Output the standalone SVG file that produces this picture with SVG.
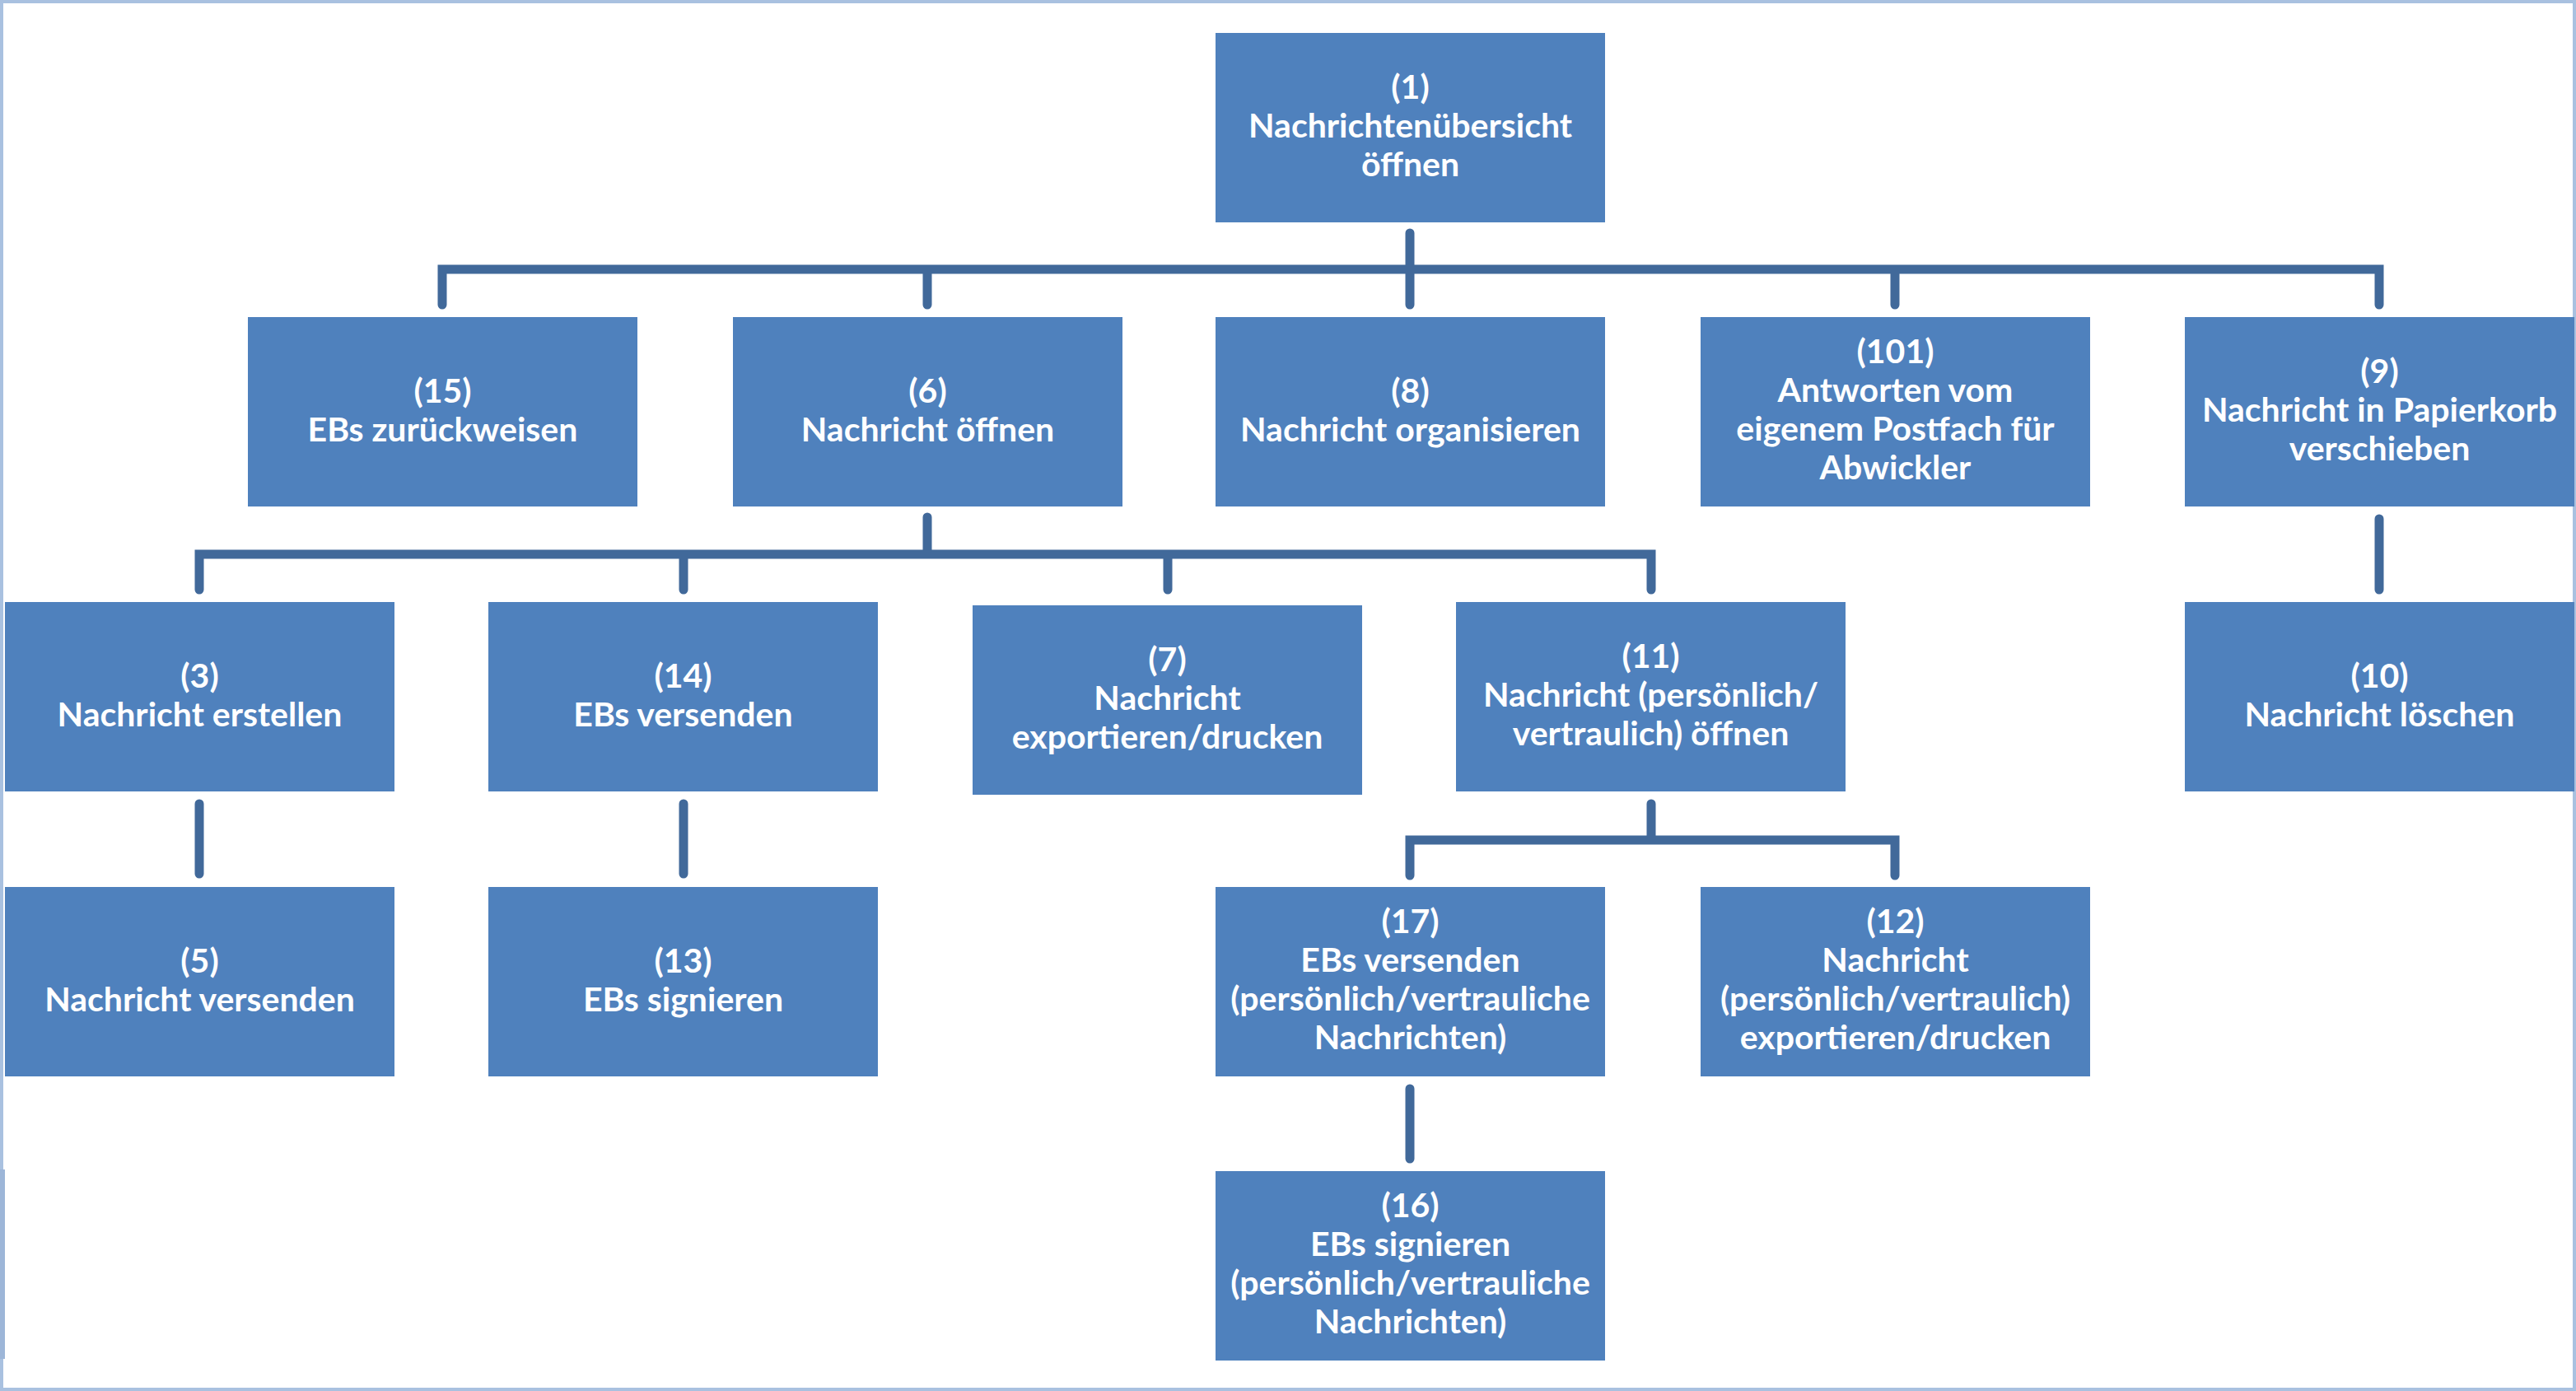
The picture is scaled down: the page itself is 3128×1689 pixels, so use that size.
<svg xmlns="http://www.w3.org/2000/svg" width="3128" height="1689" viewBox="0 0 3128 1689">
<style>
.box{fill:#4F81BD;}
.t{font-family:Lato,"Open Sans","Liberation Sans",sans-serif;font-weight:700;font-size:41px;fill:#FFFFFF;text-anchor:middle;}
.c{fill:none;stroke:#41699A;stroke-width:11;stroke-linecap:round;stroke-linejoin:miter;}
</style>
<rect x="0" y="0" width="3128" height="1689" fill="#FFFFFF"/>
<rect x="2" y="2" width="3124" height="1685" fill="none" stroke="#A9C1E0" stroke-width="4"/>
<rect x="0" y="1420" width="6" height="230" fill="#9DB6D8"/>
<g id="connectors">
<path class="c" d="M1712 283 V370 M537 370 V327 H2889 V370 M1126 327 V370 M2301 327 V370"/>
<path class="c" d="M1126 628 V673 M242 716 V673 H2005 V716 M830 673 V716 M1418 673 V716"/>
<path class="c" d="M2889 630 V716"/>
<path class="c" d="M242 976 V1061"/>
<path class="c" d="M830 976 V1061"/>
<path class="c" d="M2005 976 V1020 M1712 1063 V1020 H2301 V1063"/>
<path class="c" d="M1712 1322 V1407"/>
</g>
<g id="n1"><rect class="box" x="1476" y="40" width="473" height="230"/><text class="t" x="1712.5" y="120">(1)</text><text class="t" x="1712.5" y="167">Nachrichtenübersicht</text><text class="t" x="1712.5" y="214">öffnen</text></g>
<g id="n15"><rect class="box" x="301" y="385" width="473" height="230"/><text class="t" x="537.5" y="489">(15)</text><text class="t" x="537.5" y="536">EBs zurückweisen</text></g>
<g id="n6"><rect class="box" x="890" y="385" width="473" height="230"/><text class="t" x="1126.5" y="489">(6)</text><text class="t" x="1126.5" y="536">Nachricht öffnen</text></g>
<g id="n8"><rect class="box" x="1476" y="385" width="473" height="230"/><text class="t" x="1712.5" y="489">(8)</text><text class="t" x="1712.5" y="536">Nachricht organisieren</text></g>
<g id="n101"><rect class="box" x="2065" y="385" width="473" height="230"/><text class="t" x="2301.5" y="441">(101)</text><text class="t" x="2301.5" y="488">Antworten vom</text><text class="t" x="2301.5" y="535">eigenem Postfach für</text><text class="t" x="2301.5" y="582">Abwickler</text></g>
<g id="n9"><rect class="box" x="2653" y="385" width="473" height="230"/><text class="t" x="2889.5" y="465">(9)</text><text class="t" x="2889.5" y="512">Nachricht in Papierkorb</text><text class="t" x="2889.5" y="559">verschieben</text></g>
<g id="n3"><rect class="box" x="6" y="731" width="473" height="230"/><text class="t" x="242.5" y="835">(3)</text><text class="t" x="242.5" y="882">Nachricht erstellen</text></g>
<g id="n14"><rect class="box" x="593" y="731" width="473" height="230"/><text class="t" x="829.5" y="835">(14)</text><text class="t" x="829.5" y="882">EBs versenden</text></g>
<g id="n7"><rect class="box" x="1181" y="735" width="473" height="230"/><text class="t" x="1417.5" y="815">(7)</text><text class="t" x="1417.5" y="862">Nachricht</text><text class="t" x="1417.5" y="909">exportieren/drucken</text></g>
<g id="n11"><rect class="box" x="1768" y="731" width="473" height="230"/><text class="t" x="2004.5" y="811">(11)</text><text class="t" x="2004.5" y="858">Nachricht (persönlich/</text><text class="t" x="2004.5" y="905">vertraulich) öffnen</text></g>
<g id="n10"><rect class="box" x="2653" y="731" width="473" height="230"/><text class="t" x="2889.5" y="835">(10)</text><text class="t" x="2889.5" y="882">Nachricht löschen</text></g>
<g id="n5"><rect class="box" x="6" y="1077" width="473" height="230"/><text class="t" x="242.5" y="1181">(5)</text><text class="t" x="242.5" y="1228">Nachricht versenden</text></g>
<g id="n13"><rect class="box" x="593" y="1077" width="473" height="230"/><text class="t" x="829.5" y="1181">(13)</text><text class="t" x="829.5" y="1228">EBs signieren</text></g>
<g id="n17"><rect class="box" x="1476" y="1077" width="473" height="230"/><text class="t" x="1712.5" y="1133">(17)</text><text class="t" x="1712.5" y="1180">EBs versenden</text><text class="t" x="1712.5" y="1227">(persönlich/vertrauliche</text><text class="t" x="1712.5" y="1274">Nachrichten)</text></g>
<g id="n12"><rect class="box" x="2065" y="1077" width="473" height="230"/><text class="t" x="2301.5" y="1133">(12)</text><text class="t" x="2301.5" y="1180">Nachricht</text><text class="t" x="2301.5" y="1227">(persönlich/vertraulich)</text><text class="t" x="2301.5" y="1274">exportieren/drucken</text></g>
<g id="n16"><rect class="box" x="1476" y="1422" width="473" height="230"/><text class="t" x="1712.5" y="1478">(16)</text><text class="t" x="1712.5" y="1525">EBs signieren</text><text class="t" x="1712.5" y="1572">(persönlich/vertrauliche</text><text class="t" x="1712.5" y="1619">Nachrichten)</text></g>
</svg>
